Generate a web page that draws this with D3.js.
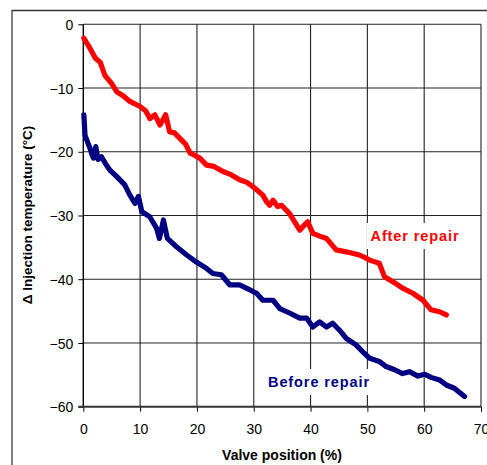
<!DOCTYPE html>
<html>
<head>
<meta charset="utf-8">
<script src="https://cdn.jsdelivr.net/npm/d3@7"></script>
<style>
  html, body { margin: 0; padding: 0; background: #fff; }
  svg { display: block; }
  text { font-family: "Liberation Sans", Arial, sans-serif; }
</style>
</head>
<body>
<svg id="chart" width="487" height="465"></svg>
<script>
// ---- data ----
const xTicks = [0, 10, 20, 30, 40, 50, 60, 70];
const yTicks = [0, -10, -20, -30, -40, -50, -60];

const afterX = [0.1, 1.0, 2.1, 3.0, 3.8, 5.0, 5.9, 7.0, 8.2, 10.0, 11.0, 11.7, 12.6, 13.5, 14.0, 14.5, 15.2, 16.0, 17.0, 18.0, 18.8, 19.5, 20.5, 21.7, 23.0, 24.6, 26.0, 27.5, 28.8, 29.9, 31.6, 32.3, 32.8, 33.4, 34.2, 34.9, 36.3, 37.2, 38.1, 38.8, 39.5, 40.4, 41.5, 42.8, 44.5, 46.3, 48.6, 49.8, 50.4, 52.1, 53.0, 54.5, 56.2, 58.0, 59.8, 61.2, 62.7, 63.9];
const afterY = [-2.2, -3.5, -5.3, -6.0, -8.0, -9.3, -10.6, -11.2, -12.1, -12.9, -13.6, -14.8, -14.2, -15.8, -15.0, -14.2, -16.9, -17.0, -17.9, -18.8, -20.2, -20.5, -21.0, -22.1, -22.3, -23.1, -23.6, -24.4, -24.8, -25.5, -26.8, -27.9, -28.4, -27.6, -28.6, -28.4, -29.7, -31.0, -32.3, -31.6, -31.0, -32.8, -33.2, -33.6, -35.4, -35.7, -36.2, -36.7, -37.0, -37.5, -39.6, -40.4, -41.4, -42.2, -43.3, -44.8, -45.1, -45.6];

const beforeX = [0.1, 0.2, 0.3, 0.8, 1.2, 1.5, 1.8, 2.2, 2.6, 3.2, 4.0, 4.7, 5.9, 7.3, 8.2, 9.1, 9.7, 10.3, 11.7, 12.9, 13.4, 13.8, 14.1, 14.8, 16.4, 18.2, 19.9, 21.7, 22.8, 24.3, 25.8, 27.5, 28.7, 30.5, 31.6, 33.4, 34.6, 36.3, 38.1, 39.3, 40.4, 41.6, 42.8, 43.9, 45.1, 46.3, 48.0, 49.2, 50.4, 52.1, 53.3, 54.8, 56.2, 57.4, 58.9, 60.1, 61.2, 62.7, 63.9, 65.3, 67.1];
const beforeY = [-14.2, -15.8, -17.4, -18.6, -19.5, -20.4, -21.0, -19.2, -21.2, -20.8, -22.0, -22.9, -23.9, -25.2, -26.8, -28.1, -27.0, -29.4, -30.2, -32.0, -33.6, -32.0, -30.7, -33.6, -34.9, -36.2, -37.3, -38.3, -39.1, -39.3, -40.9, -40.9, -41.4, -42.2, -43.3, -43.3, -44.6, -45.3, -46.1, -46.1, -47.5, -46.7, -47.5, -46.9, -48.0, -49.3, -50.3, -51.4, -52.4, -52.9, -53.7, -54.2, -54.8, -54.5, -55.2, -54.9, -55.4, -55.8, -56.6, -57.1, -58.4];

const seriesNames = ["After repair", "Before repair"];
const seriesColors = ["#ff0000", "#000080"];

// ---- layout ----
const svg = d3.select("#chart");
const pL = 83.3, pR = 481, pT = 24.3, pB = 406.7;
const x = d3.scaleLinear().domain([0, 70]).range([pL, pR]);
const y = d3.scaleLinear().domain([-60, 0]).range([pB, pT]);

// outer frame (partly cropped)
svg.append("line").attr("x1", 12).attr("x2", 12).attr("y1", 10).attr("y2", 465)
  .attr("stroke", "#000").attr("stroke-width", 1);
svg.append("line").attr("x1", 12).attr("x2", 487).attr("y1", 10.5).attr("y2", 10.5)
  .attr("stroke", "#333").attr("stroke-width", 1.6);

// grid
const g = svg.append("g");
g.selectAll(".hg").data(yTicks.filter(d => d > -60)).enter().append("line")
  .attr("x1", pL).attr("x2", pR).attr("y1", d => y(d)).attr("y2", d => y(d))
  .attr("stroke", "#222").attr("stroke-width", 1.1);
g.selectAll(".vg").data(xTicks.filter(d => d > 0)).enter().append("line")
  .attr("x1", d => x(d)).attr("x2", d => x(d)).attr("y1", pT).attr("y2", pB)
  .attr("stroke", "#222").attr("stroke-width", 1.1);

// axes
const yAxis = d3.axisLeft(y).tickValues(yTicks).tickSize(5).tickFormat(d3.format("d"));
const xAxis = d3.axisBottom(x).tickValues(xTicks).tickSize(5).tickFormat(d3.format("d"));
const ya = svg.append("g").attr("transform", `translate(${pL},0)`).call(yAxis);
const xa = svg.append("g").attr("transform", `translate(0,${pB})`).call(xAxis);
ya.select(".domain").remove();
xa.select(".domain").remove();
svg.append("line").attr("x1", pL).attr("x2", pL).attr("y1", pT).attr("y2", pB + 0.5)
  .attr("stroke", "#000").attr("stroke-width", 1.4);
svg.append("line").attr("x1", pL - 5).attr("x2", pR).attr("y1", pB).attr("y2", pB)
  .attr("stroke", "#333").attr("stroke-width", 2);
[ya, xa].forEach(a => {
  a.selectAll(".tick line").attr("stroke", "#000").attr("stroke-width", 1);
  a.selectAll(".tick text").attr("font-size", 14).attr("fill", "#000")
   .style("font-family", "'Liberation Sans', Arial, sans-serif");
});
ya.selectAll(".tick text").attr("x", -10).attr("dy", "0.36em");
xa.selectAll(".tick text").attr("y", 17);

// titles
svg.append("text").attr("x", 282).attr("y", 460).attr("text-anchor", "middle")
  .attr("font-size", 14).attr("font-weight", "bold").text("Valve position (%)");
svg.append("text").attr("transform", "translate(32,215) rotate(-90)").attr("text-anchor", "middle")
  .attr("font-size", 13.5).attr("font-weight", "bold").text("Δ Injection temperature (°C)");

// lines
const line = d3.line().x(d => x(d[0])).y(d => y(d[1]));
const afterData = d3.zip(afterX, afterY);
const beforeData = d3.zip(beforeX, beforeY);
[afterData, beforeData].forEach((dat, i) => {
  svg.append("path").datum(dat).attr("d", line).attr("fill", "none")
    .attr("stroke", seriesColors[i]).attr("stroke-width", 5.2)
    .attr("stroke-linejoin", "round").attr("stroke-linecap", "round");
});

// labels with white background
function label(txt, cx, by, color) {
  const t = svg.append("text").attr("x", cx).attr("y", by).attr("text-anchor", "middle")
    .attr("font-size", 14.5).attr("font-weight", "bold").attr("fill", color)
    .attr("letter-spacing", 0.9).text(txt);
  const b = t.node().getBBox();
  svg.insert("rect", () => t.node()).attr("x", b.x - 4).attr("y", b.y - 5)
    .attr("width", b.width + 8).attr("height", b.height + 10).attr("fill", "#fff");
}
label(seriesNames[0], 415, 241, seriesColors[0]);
label(seriesNames[1], 319, 387, seriesColors[1]);
</script>
</body>
</html>
